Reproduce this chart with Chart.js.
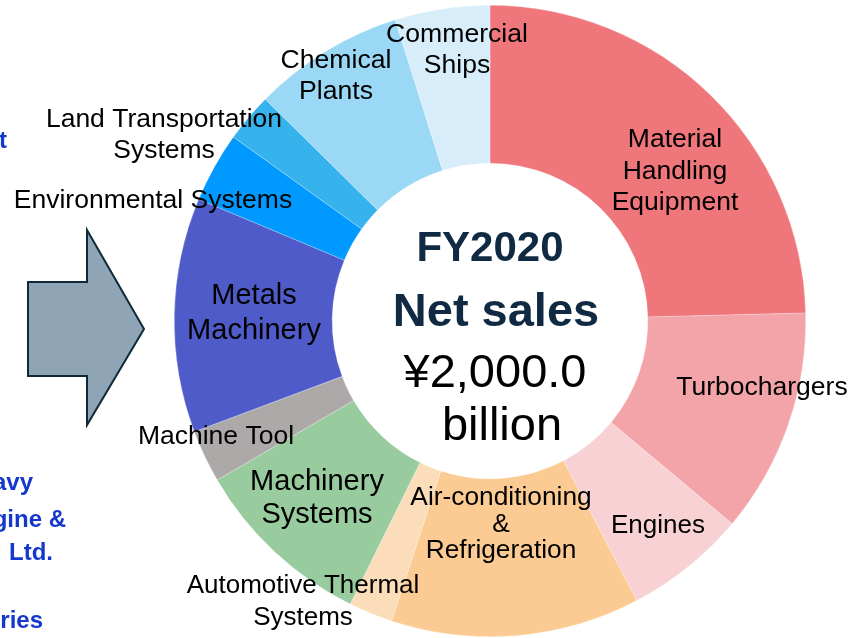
<!DOCTYPE html>
<html>
<head>
<meta charset="utf-8">
<script src="https://cdn.jsdelivr.net/npm/chart.js@4"></script>
<style>
  html, body { margin: 0; padding: 0; background: #ffffff; }
  #wrap { width: 858px; height: 638px; position: relative; }
</style>
</head>
<body>
<div id="wrap"><canvas id="c" width="858" height="638"></canvas></div>
<script>
// ---- data (FY2020 net sales by business, ¥ billion) ----
const categories = [
  ["Material", "Handling", "Equipment"],
  ["Turbochargers"],
  ["Engines"],
  ["Air-conditioning", "&", "Refrigeration"],
  ["Automotive Thermal", "Systems"],
  ["Machinery", "Systems"],
  ["Machine Tool"],
  ["Metals", "Machinery"],
  ["Environmental Systems"],
  ["Land Transportation", "Systems"],
  ["Chemical", "Plants"],
  ["Commercial", "Ships"]
];
const salesValues = [492, 230, 124, 255, 45, 186, 54, 240, 72, 50, 155, 97];
const centerTitle = "FY2020";
const centerSubtitle = "Net sales";
const centerAmount = "¥2,000.0";
const centerUnit = "billion";
const sideTexts = ["t", "Heavy", "Engine &", "Ltd.", "Industries"];

// ---- styles ----
const sliceColors = [
  "#EF767A", "#F3A4A8", "#F7D1D4", "#FBCB93", "#FCDDB9", "#98CC9F",
  "#ADA9A9", "#4F5BC8", "#0099FF", "#36B3EC", "#9AD8F5", "#D7EEFA"
];
// label placement: offset of each label's centre / first baseline from chart centre, line height, font size
const labelLayout = [
  { dx: 185, dy: -174, lh: 31.5, fs: 26.5 },
  { dx: 272, dy: 74, lh: 31, fs: 26.5 },
  { dx: 168, dy: 212, lh: 31, fs: 26 },
  { dx: 11, dy: 184, lh: 26.5, fs: 26.3 },
  { dx: -187, dy: 272, lh: 32, fs: 26 },
  { dx: -173, dy: 169, lh: 33, fs: 29 },
  { dx: -274, dy: 123, lh: 31, fs: 26.5 },
  { dx: -236, dy: -17, lh: 35, fs: 29 },
  { dx: -337, dy: -113, lh: 31, fs: 26.5 },
  { dx: -326, dy: -194, lh: 31, fs: 26.5 },
  { dx: -154, dy: -253, lh: 31, fs: 26.6 },
  { dx: -33, dy: -279, lh: 31, fs: 26.6 }
];
const sideLayout = [
  { x: 7, y: 148 }, { x: 33, y: 490 }, { x: 66, y: 527 }, { x: 53, y: 560 }, { x: 43, y: 628 }
];
const FONT = '"Liberation Sans", Arial, Helvetica, sans-serif';

const decorPlugin = {
  id: 'decor',
  afterDatasetsDraw(chart) {
    const ctx = chart.ctx;
    const arc0 = chart.getDatasetMeta(0).data[0];
    const cx = arc0.x, cy = arc0.y;
    ctx.save();
    // slice labels
    ctx.fillStyle = "#000000";
    ctx.textAlign = 'center';
    ctx.textBaseline = 'alphabetic';
    categories.forEach((lines, i) => {
      const L = labelLayout[i];
      ctx.font = L.fs + 'px ' + FONT;
      lines.forEach((t, k) => ctx.fillText(t, cx + L.dx, cy + L.dy + k * L.lh));
    });
    // centre text
    ctx.fillStyle = "#0F2A42";
    ctx.font = 'bold 42px ' + FONT;
    ctx.fillText(centerTitle, cx, cy - 60);
    ctx.font = 'bold 47px ' + FONT;
    ctx.fillText(centerSubtitle, cx + 6, cy + 5);
    ctx.fillStyle = "#000000";
    ctx.font = '47px ' + FONT;
    ctx.fillText(centerAmount, cx + 5, cy + 66);
    ctx.fillText(centerUnit, cx + 12, cy + 119);

    // arrow shape at the left
    ctx.beginPath();
    ctx.moveTo(28, 282);
    ctx.lineTo(87, 282);
    ctx.lineTo(87, 230);
    ctx.lineTo(144, 329);
    ctx.lineTo(87, 425);
    ctx.lineTo(87, 376);
    ctx.lineTo(28, 376);
    ctx.closePath();
    ctx.fillStyle = "#8FA4B5";
    ctx.fill();
    ctx.lineWidth = 2;
    ctx.strokeStyle = "#0E2A38";
    ctx.stroke();

    // partially visible side texts
    ctx.fillStyle = "#1437CD";
    ctx.font = 'bold 24px ' + FONT;
    ctx.textAlign = 'right';
    sideTexts.forEach((t, i) => ctx.fillText(t, sideLayout[i].x, sideLayout[i].y));
    ctx.restore();
  }
};

new Chart(document.getElementById('c'), {
  type: 'doughnut',
  data: {
    labels: categories,
    datasets: [{
      data: salesValues,
      backgroundColor: sliceColors,
      borderColor: 'rgba(255,255,255,0.5)',
      borderWidth: 0.5
    }]
  },
  options: {
    responsive: false,
    animation: false,
    cutout: '50%',
    rotation: 0,
    layout: { padding: { left: 174, right: 52, top: 5, bottom: 1 } },
    plugins: {
      legend: { display: false },
      tooltip: { enabled: false }
    }
  },
  plugins: [decorPlugin]
});
</script>
</body>
</html>
